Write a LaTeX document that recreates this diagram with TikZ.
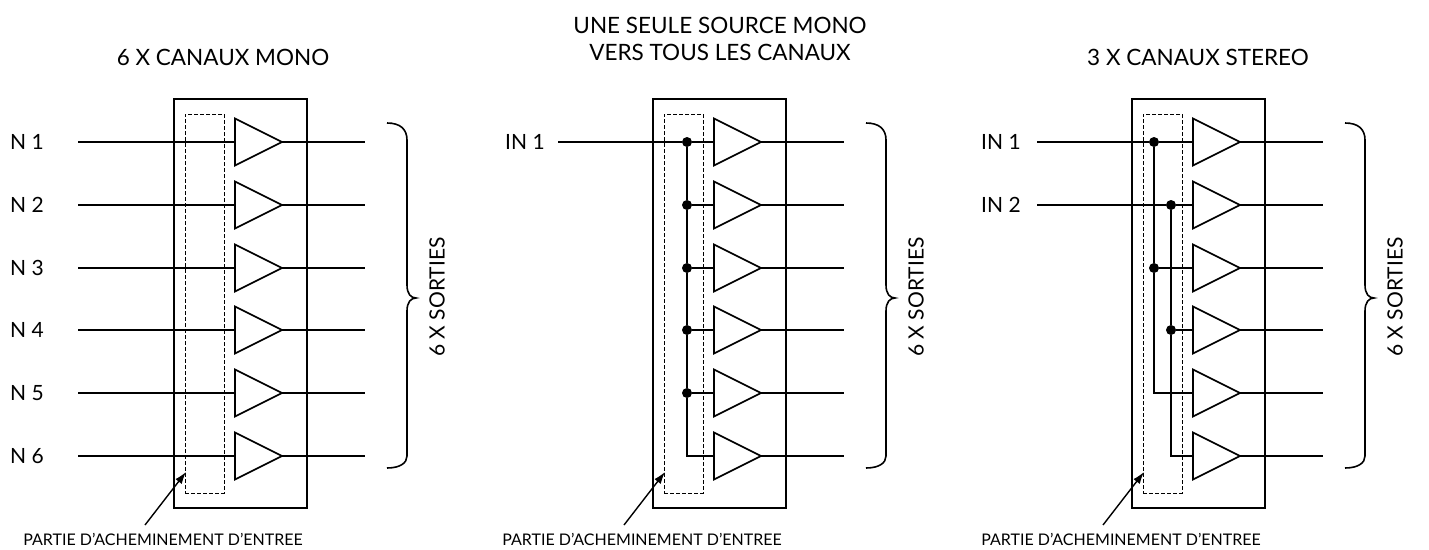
\documentclass[tikz,border=0pt]{standalone}
\usepackage{fontspec}
\setmainfont{Lato}
\usetikzlibrary{shapes.geometric,arrows.meta,positioning}

\begin{document}
\begin{tikzpicture}[x=1pt, y=-1pt,
    wire/.style={line width=1.6pt},
    amp/.style={isosceles triangle, isosceles triangle stretches, draw, line width=1.6pt,
        minimum width=47pt, minimum height=47pt, inner sep=0pt, outer sep=0pt, anchor=lower side},
    panel/.style={draw, line width=1.6pt, minimum width=133pt, minimum height=409pt, inner sep=0pt},
    route/.style={draw, dash pattern=on 4pt off 2pt, line width=1pt, minimum width=39pt, minimum height=379pt, inner sep=0pt},
    dot/.style={circle, fill, inner sep=0pt, minimum size=10pt},
    title/.style={font=\fontsize{22.5}{27}\selectfont, align=center},
    inlabel/.style={font=\fontsize{21}{24}\selectfont, anchor=west, inner sep=0pt},
    note/.style={font=\fontsize{16}{18}\selectfont},
    pointer/.style={-{Latex[length=12pt,width=8pt]}, line width=1.4pt}
]
    \useasboundingbox (0,0) rectangle (1429,549);

    % Titles
    \node[title] (mtitle) at (223,57) {6 X CANAUX MONO};
    \node[title] (stitle) at (720,39) {UNE SEULE SOURCE MONO\\VERS TOUS LES CANAUX};
    \node[title] (ttitle) at (1198,57) {3 X CANAUX STEREO};

    % Common part of the three panels
    \foreach \p/\dx in {m/0, s/479, t/958} {
    \begin{scope}[xshift=\dx pt]
        \node[panel] (\p-box) at (240.5,303.5) {};
        \node[route] (\p-route) at (204.5,303.5) {};
        \foreach \i in {1,...,6} {
            \pgfmathsetmacro\y{round(142+62.8*(\i-1))}
            \node[amp] (\p-a\i) at (235,\y) {};
            \coordinate (\p-o\i) at (365,\y);
            \draw[wire] (\p-a\i.apex) -- (\p-o\i);
        }
        \draw[wire] (387,123) .. controls (400,123) and (407,129) .. (407,140)
            -- (407,285) .. controls (407,294) and (411,298) .. (416,298)
            .. controls (411,298) and (407,302) .. (407,311)
            -- (407,456) .. controls (407,463) and (400,468) .. (387,468);
        \node[inlabel, anchor=center, rotate=90] (\p-sort) at (437,297) {6 X SORTIES};
        \node[note] (\p-part) at (163,539) {PARTIE D’ACHEMINEMENT D’ENTREE};
        \coordinate (\p-tail) at (145,525);
        \coordinate (\p-head) at (186,472);
        \draw[pointer] (\p-tail) -- (\p-head);
    \end{scope}
    }

    % 6 x mono
    \foreach \i in {1,...,6} {
        \pgfmathsetmacro\y{round(142+62.8*(\i-1))}
        \node[inlabel] (m-n\i) at (10,\y) {N \i};
        \coordinate (m-i\i) at (78,\y);
        \draw[wire] (m-i\i) -- (m-a\i.lower side);
    }

    % one mono source to all channels
    \node[inlabel] (s-n1) at (505,142) {IN 1};
    \coordinate (s-i1) at (558,142);
    \foreach \i in {1,...,5} {
        \pgfmathsetmacro\y{round(142+62.8*(\i-1))}
        \node[dot] (s-d\i) at (687,\y) {};
    }
    \coordinate (s-c6) at (687,456);
    \draw[wire] (s-i1) -- (s-d1) -- (s-a1.lower side);
    \draw[wire] (s-d1) -- (s-d2) -- (s-d3) -- (s-d4) -- (s-d5) -- (s-c6) -- (s-a6.lower side);
    \foreach \i in {2,...,5}
        \draw[wire] (s-d\i) -- (s-a\i.lower side);

    % 3 x stereo
    \node[inlabel] (t-n1) at (981,142) {IN 1};
    \node[inlabel] (t-n2) at (981,205) {IN 2};
    \coordinate (t-i1) at (1037,142);
    \coordinate (t-i2) at (1037,205);
    \node[dot] (t-d1) at (1154,142) {};
    \node[dot] (t-d3) at (1154,268) {};
    \coordinate (t-c5) at (1154,393);
    \node[dot] (t-d2) at (1171,205) {};
    \node[dot] (t-d4) at (1171,330) {};
    \coordinate (t-c6) at (1171,456);
    \draw[wire] (t-i1) -- (t-d1) -- (t-a1.lower side);
    \draw[wire] (t-i2) -- (t-d2) -- (t-a2.lower side);
    \draw[wire] (t-d1) -- (t-d3) -- (t-c5) -- (t-a5.lower side);
    \draw[wire] (t-d3) -- (t-a3.lower side);
    \draw[wire] (t-d2) -- (t-d4) -- (t-c6) -- (t-a6.lower side);
    \draw[wire] (t-d4) -- (t-a4.lower side);
\end{tikzpicture}
\end{document}
